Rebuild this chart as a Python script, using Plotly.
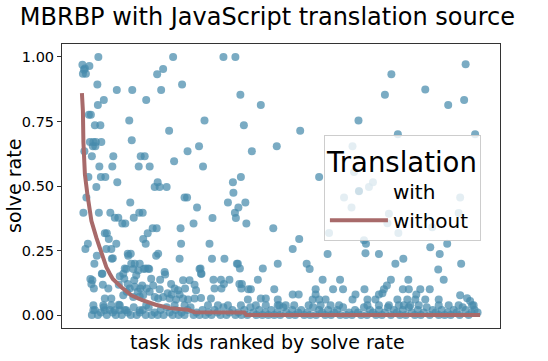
import plotly.graph_objects as go

# number of tasks (ranked by solve rate without translation)
n_tasks = 800

# solve rate WITH translation, individually readable points: (rank, rate)
point_rank = [1, 2, 3, 4, 5, 6, 7, 8, 9, 12, 13, 14, 15, 16, 17, 18, 19, 20, 21, 22,
              23, 24, 25, 26, 27, 28, 29, 30, 31, 32, 33, 34, 35, 37, 38, 39, 40, 41, 42, 44,
              46, 47, 49, 50, 53, 54, 57, 59, 60, 61, 62, 63, 66, 69, 70, 71, 73, 74, 76, 81,
              83, 85, 86, 87, 89, 90, 92, 92, 93, 95, 96, 97, 98, 99, 100, 101, 103, 104, 105, 106,
              106, 109, 112, 113, 114, 115, 116, 117, 118, 121, 122, 123, 124, 126, 127, 128, 129, 130, 132, 133,
              135, 136, 136, 139, 142, 143, 146, 149, 150, 151, 152, 153, 156, 156, 157, 159, 163, 166, 167, 170,
              172, 175, 179, 180, 183, 185, 186, 193, 196, 196, 198, 199, 201, 203, 206, 207, 211, 212, 216, 224,
              226, 229, 231, 235, 236, 238, 239, 240, 243, 246, 256, 261, 262, 264, 266, 279, 280, 284, 285, 286,
              293, 296, 303, 304, 307, 308, 309, 311, 313, 314, 316, 317, 318, 319, 320, 321, 325, 328, 330, 334,
              339, 341, 353, 359, 363, 384, 386, 391, 393, 423, 436, 438, 451, 457, 469, 476, 483, 493, 496, 504,
              518, 524, 526, 541, 543, 546, 555, 556, 566, 567, 569, 570, 576, 584, 596, 603, 606, 608, 612, 613,
              616, 620, 621, 629, 634, 635, 644, 645, 655, 656, 679, 689, 698, 699, 703, 715, 718, 726, 733, 735,
              756, 759, 761, 767, 770, 789]
point_rate = [0.97, 0.935, 0.396, 0.95, 0.635, 0.955, 0.256, 0.935, 0.455, 0.276, 0.535, 0.776, 0.965, 0.67, 0.14, 0.776, 0.12, 0.615, 0.135, 0.654,
              0.67, 0.103, 0.199, 0.735, 0.654, 0.67, 0.496, 0.23, 0.893, 0.814, 1.0, 0.396, 0.576, 0.735, 0.535, 0.67, 0.16, 0.16, 0.118, 0.833,
              0.317, 0.535, 0.256, 0.317, 0.103, 0.295, 0.396, 0.256, 0.218, 0.576, 0.22, 0.615, 0.377, 0.276, 0.872, 0.515, 0.377, 0.118, 0.15, 0.355,
              0.16, 0.141, 0.18, 0.355, 0.179, 0.09, 0.238, 0.12, 0.23, 0.754, 0.103, 0.436, 0.238, 0.199, 0.677, 0.872, 0.179, 0.377, 0.135, 0.199,
              0.11, 0.154, 0.09, 0.173, 0.576, 0.396, 0.199, 0.103, 0.615, 0.115, 0.396, 0.295, 0.179, 0.615, 0.18, 0.276, 0.833, 0.103, 0.317, 0.18,
              0.179, 0.576, 0.09, 0.141, 0.336, 0.115, 0.496, 0.23, 0.336, 0.933, 0.515, 0.238, 0.496, 0.1, 0.137, 0.872, 0.953, 0.167, 0.157, 0.496,
              0.085, 0.714, 0.12, 0.08, 1.0, 0.596, 0.103, 0.096, 0.218, 0.08, 0.336, 0.276, 0.893, 0.135, 0.455, 0.103, 0.455, 0.635, 0.135, 0.355,
              0.118, 0.096, 0.417, 0.654, 0.179, 0.18, 0.16, 0.16, 0.576, 0.754, 0.276, 0.218, 0.376, 0.137, 0.103, 0.137, 0.103, 1.0, 0.12, 0.218,
              0.436, 0.137, 0.515, 0.474, 0.396, 1.0, 0.376, 0.199, 0.199, 0.417, 0.12, 0.18, 0.853, 0.535, 0.103, 0.12, 0.735, 0.436, 0.355, 0.1,
              0.1, 0.635, 0.137, 0.814, 0.18, 0.336, 0.1, 0.654, 0.199, 0.256, 0.295, 0.714, 0.199, 0.179, 0.1, 0.535, 0.137, 0.237, 0.318, 0.1,
              0.137, 0.1, 0.455, 0.417, 0.654, 0.554, 0.754, 0.481, 0.29, 0.1, 0.24, 0.276, 0.496, 0.515, 0.237, 0.085, 0.1, 0.853, 0.115, 0.356,
              0.393, 0.137, 0.933, 0.199, 0.7, 0.318, 0.1, 0.218, 0.137, 0.1, 0.1, 0.874, 0.1, 0.263, 0.34, 0.177, 0.237, 0.137, 0.276, 0.814,
              0.395, 0.455, 0.199, 0.833, 0.972, 0.7]

# low solve rates (0.02 - 0.08) that form the lower fringe of the band
low_rank = [23, 23, 43, 46, 46, 59, 59, 66, 76, 76, 83, 89, 103, 116, 116, 123, 129, 146, 153, 163,
            176, 186, 189, 203, 206, 213, 226, 239, 253, 259, 273, 293, 319, 333, 349, 359, 369, 369, 393, 393,
            396, 409, 423, 426, 435, 455, 463, 469, 476, 479, 489, 499, 516, 543, 549, 573, 573, 589, 596, 596,
            616, 633, 636, 646, 653, 659, 669, 671, 676, 689, 716, 716, 736, 756, 759, 773, 779, 783, 786]
low_rate = [0.038, 0.019, 0.038, 0.064, 0.019, 0.064, 0.038, 0.019, 0.038, 0.019, 0.077, 0.019, 0.07, 0.072, 0.019, 0.077, 0.038, 0.07, 0.064, 0.07,
            0.064, 0.038, 0.06, 0.064, 0.038, 0.06, 0.064, 0.066, 0.038, 0.064, 0.038, 0.038, 0.038, 0.06, 0.038, 0.064, 0.064, 0.038, 0.06, 0.038,
            0.038, 0.038, 0.08, 0.038, 0.08, 0.038, 0.06, 0.08, 0.06, 0.038, 0.06, 0.038, 0.038, 0.06, 0.08, 0.06, 0.038, 0.06, 0.08, 0.038,
            0.038, 0.06, 0.038, 0.038, 0.06, 0.038, 0.06, 0.08, 0.038, 0.06, 0.06, 0.038, 0.038, 0.038, 0.077, 0.065, 0.055, 0.038, 0.038]

# tasks solved (almost) never: the dense strip at the bottom
band_rank = [20, 26, 32, 38, 44, 50, 56, 62, 68, 74, 80, 86, 92, 98, 104, 110, 116, 122, 128, 134,
             140, 146, 152, 158, 164, 170, 176, 182, 188, 194, 200, 206, 212, 218, 224, 230, 236, 242, 248, 254,
             260, 266, 272, 278, 284, 290, 296, 302, 308, 314, 320, 326, 332, 338, 344, 350, 356, 362, 368, 374,
             380, 386, 392, 398, 404, 410, 416, 422, 428, 434, 440, 446, 452, 458, 464, 470, 476, 482, 488, 494,
             500, 506, 512, 518, 524, 530, 536, 542, 548, 554, 560, 566, 572, 578, 584, 590, 596, 602, 608, 614,
             620, 626, 632, 638, 644, 650, 656, 662, 668, 674, 680, 686, 692, 698, 704, 710, 716, 722, 728, 734,
             740, 746, 752, 758, 764, 770, 776, 782, 788, 794]
band_rate = [0, 0.02, 0, 0.01, 0.03, 0, 0.02, 0.01, 0, 0.04, 0, 0.02, 0.01, 0, 0.03, 0, 0.01, 0.02, 0, 0.03,
             0, 0.01, 0, 0.02, 0, 0.03, 0.01, 0, 0.02, 0, 0.01, 0, 0.02, 0.03, 0, 0.01, 0, 0.02, 0, 0.01,
             0, 0.02, 0.01, 0, 0.03, 0, 0.01, 0.02, 0, 0.01, 0, 0.02, 0, 0.03, 0.01, 0, 0.02, 0, 0.01, 0,
             0.02, 0, 0.01, 0, 0.03, 0.01, 0, 0.02, 0, 0.01, 0.02, 0, 0.01, 0, 0.03, 0, 0.02, 0.01, 0, 0.02,
             0, 0.01, 0.02, 0, 0.03, 0, 0.01, 0, 0.02, 0.01, 0, 0.03, 0, 0.02, 0.01, 0, 0.02, 0, 0.01, 0.03,
             0, 0.02, 0.01, 0, 0.02, 0, 0.03, 0.01, 0, 0.02, 0, 0.01, 0.03, 0, 0.02, 0.01, 0, 0.02, 0, 0.01,
             0, 0.02, 0.01, 0, 0.03, 0.02, 0, 0.01, 0.02, 0.01]

# solve rate WITHOUT translation (sorted, the ranking itself)
without_rank = [0, 2, 3, 6, 11, 19, 29, 39, 49, 56, 62, 80, 99, 121, 148, 176, 212, 226, 326, 330, 799]
without_rate = [0.86, 0.79, 0.67, 0.545, 0.468, 0.365, 0.30, 0.237, 0.186, 0.16, 0.14, 0.107, 0.077, 0.058,
                0.04, 0.027, 0.021, 0.011, 0.01, 0.0, 0.0]

y_ticks = [0, 0.25, 0.5, 0.75, 1.0]
y_labels = ["0.00", "0.25", "0.50", "0.75", "1.00"]

blue = "rgba(70,138,172,0.72)"
red = "rgb(168,106,106)"
font = "DejaVu Sans"

fig = go.Figure()

# legend-only entry (no visible handle, like the original)
fig.add_trace(go.Scatter(x=[None], y=[None], mode="markers", name="with",
                         marker=dict(color=blue, size=8, opacity=0)))

fig.add_trace(go.Scatter(
    x=point_rank + low_rank + band_rank,
    y=point_rate + low_rate + band_rate,
    mode="markers", showlegend=False, name="with",
    marker=dict(color=blue, size=8, line=dict(width=0)),
))

fig.add_trace(go.Scatter(
    x=without_rank, y=without_rate, mode="lines", name="without",
    line=dict(color=red, width=4),
))

# axis titles as annotations so they sit exactly like the matplotlib original
fig.add_annotation(text="solve rate", xref="paper", yref="paper", x=0, y=0.5,
                   xanchor="center", yanchor="middle", xshift=-48, textangle=-90,
                   showarrow=False, font=dict(size=19))
fig.add_annotation(text="task ids ranked by solve rate", xref="paper", yref="paper", x=0.47, y=0,
                   xanchor="center", yanchor="middle", yshift=-14,
                   showarrow=False, font=dict(size=19))

pad = 0.05 * (n_tasks - 1)
fig.update_layout(
    width=548, height=361,
    margin=dict(l=62, r=48, t=44, b=33),
    paper_bgcolor="white", plot_bgcolor="white",
    font=dict(family=font, color="black"),
    title=dict(text="MBRBP with JavaScript translation source", font=dict(size=24),
               x=0.488, xanchor="center", y=0.955, yanchor="middle"),
    xaxis=dict(range=[-pad, n_tasks - 1 + pad], showticklabels=False, ticks="",
               showgrid=False, zeroline=False, showline=True, mirror=True,
               linecolor="#333", linewidth=1, automargin=False),
    yaxis=dict(range=[-0.05, 1.05], tickvals=y_ticks, ticktext=y_labels,
               ticks="outside", ticklen=4, tickcolor="#333", tickfont=dict(size=14.5),
               showgrid=False, zeroline=False, showline=True, mirror=True,
               linecolor="#333", linewidth=1, automargin=False),
    legend=dict(x=0.598, xanchor="left", y=0.68, yanchor="top",
                bgcolor="rgba(255,255,255,0.8)", bordercolor="rgba(200,200,200,0.9)", borderwidth=1,
                font=dict(size=20), itemwidth=58,
                title=dict(text="Translation", font=dict(size=27.5), side="top center")),
)

# drop the default 8px page margin so the figure fills the window exactly
fig.write_html("out.html", config={"displayModeBar": False},
               post_script="document.body.style.margin = '0px';")
